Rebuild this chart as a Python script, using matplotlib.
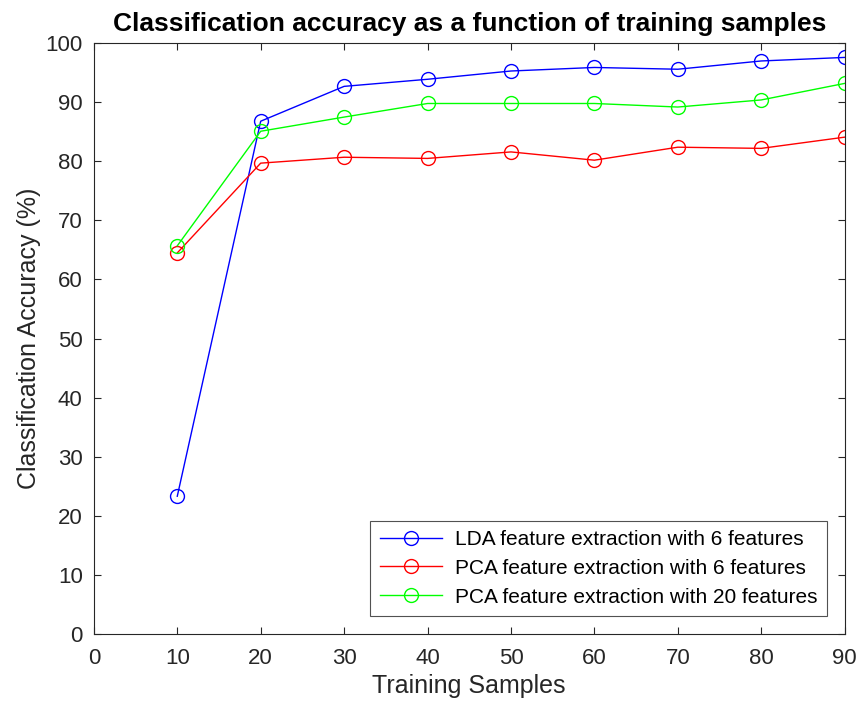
import matplotlib
matplotlib.use("Agg")
import matplotlib.pyplot as plt

plt.rcParams['font.family'] = ['Liberation Sans', 'DejaVu Sans']

samples = [10, 20, 30, 40, 50, 60, 70, 80, 90]
lda6 = [23.3, 86.8, 92.7, 93.9, 95.3, 95.9, 95.6, 97.0, 97.6]
pca6 = [64.5, 79.7, 80.7, 80.5, 81.6, 80.2, 82.4, 82.2, 84.1]
pca20 = [65.7, 85.1, 87.5, 89.8, 89.8, 89.8, 89.2, 90.4, 93.2]
labels = ['LDA feature extraction with 6 features',
          'PCA feature extraction with 6 features',
          'PCA feature extraction with 20 features']

fig = plt.figure(figsize=(8.61, 7.09), dpi=100)
ax = fig.add_axes([0.109, 0.106, 0.872, 0.833])
mk = dict(marker='o', markersize=10, markerfacecolor='none', linewidth=1.0, markeredgewidth=1.0)
ax.plot(samples, lda6, color='#0000ff', label=labels[0], **mk)
ax.plot(samples, pca6, color='#ff0000', label=labels[1], **mk)
ax.plot(samples, pca20, color='#00ff00', label=labels[2], **mk)

ax.set_xlim(0, 90)
ax.set_ylim(0, 100)
ax.set_xticks(range(0, 91, 10))
ax.set_yticks(range(0, 101, 10))
ax.tick_params(direction='in', length=5, width=0.8, labelsize=16, colors='#262626',
               top=True, right=True)
ax.tick_params(axis='x', pad=10)
ax.tick_params(axis='y', pad=8)
for s in ax.spines.values():
    s.set_color('#262626')
    s.set_linewidth(0.8)
ax.set_xlabel('Training Samples', fontsize=18, color='#262626', labelpad=4)
ax.set_ylabel('Classification Accuracy (%)', fontsize=18, color='#262626', labelpad=3)
ax.set_title('Classification accuracy as a function of training samples',
             fontsize=19, fontweight='bold', pad=9)
leg = ax.legend(loc='lower right', fontsize=15, frameon=True, fancybox=False,
                edgecolor='#262626', borderaxespad=0.86, handlelength=3.0,
                labelspacing=0.47, borderpad=0.45, handletextpad=0.6)
leg.get_frame().set_linewidth(0.8)
fig.savefig('out.png', dpi=100)
